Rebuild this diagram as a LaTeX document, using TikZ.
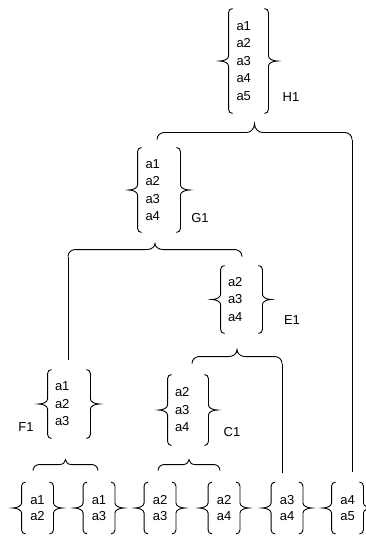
\documentclass[tikz,border=0pt]{standalone}
\usepackage{fontspec}
\setmainfont{Liberation Sans}
\usetikzlibrary{decorations,calc}
\makeatletter
\newdimen\cbr@r \newdimen\cbr@t \newdimen\cbr@w \newdimen\cbr@h
\cbr@r=4pt \cbr@t=9pt \cbr@w=5pt
\pgfkeys{
  /pgf/decoration/brace corner/.code={\pgfmathsetlength\cbr@r{#1}},
  /pgf/decoration/brace tip/.code={\pgfmathsetlength\cbr@t{#1}},
  /pgf/decoration/brace tip width/.code={\pgfmathsetlength\cbr@w{#1}},
}
\pgfdeclaredecoration{cbrace}{brace}{%
  \state{brace}[width=+\pgfdecoratedremainingdistance,next state=final]{%
    \cbr@h=.5\pgfdecoratedremainingdistance
    \pgfpathmoveto{\pgfpointorigin}%
    \pgfpathcurveto{\pgfqpoint{0pt}{.55\cbr@r}}{\pgfqpoint{.45\cbr@r}{\cbr@r}}{\pgfqpoint{\cbr@r}{\cbr@r}}%
    \pgfpathlineto{\pgfqpoint{\dimexpr\cbr@h-\cbr@w\relax}{\cbr@r}}%
    \pgfpathcurveto{\pgfqpoint{\dimexpr\cbr@h-.45\cbr@w\relax}{\cbr@r}}{\pgfqpoint{\cbr@h}{\dimexpr\cbr@r+.45\cbr@t\relax}}{\pgfqpoint{\cbr@h}{\dimexpr\cbr@r+\cbr@t\relax}}%
    \pgfpathcurveto{\pgfqpoint{\cbr@h}{\dimexpr\cbr@r+.45\cbr@t\relax}}{\pgfqpoint{\dimexpr\cbr@h+.45\cbr@w\relax}{\cbr@r}}{\pgfqpoint{\dimexpr\cbr@h+\cbr@w\relax}{\cbr@r}}%
    \pgfpathlineto{\pgfqpoint{\dimexpr\pgfdecoratedremainingdistance-\cbr@r\relax}{\cbr@r}}%
    \pgfpathcurveto{\pgfqpoint{\dimexpr\pgfdecoratedremainingdistance-.45\cbr@r\relax}{\cbr@r}}{\pgfqpoint{\pgfdecoratedremainingdistance}{.55\cbr@r}}{\pgfqpoint{\pgfdecoratedremainingdistance}{0pt}}%
  }%
  \state{final}{\pgfpathmoveto{\pgfpointdecoratedpathlast}}%
}
\makeatother
\tikzset{
  setnode/.style={align=left, inner ysep=0pt},
  botnode/.style={align=center, inner ysep=0pt, inner xsep=3pt, text width=17pt, minimum height=51pt,
    font=\fontsize{13}{16.5}\selectfont},
  setbrace/.style={decorate, decoration={cbrace, brace corner=4pt, brace tip=9pt, brace tip width=5pt}},
  joinbrace/.style={decorate, decoration={cbrace, brace corner=7pt, brace tip=#1, brace tip width=8pt}},
  joinbrace/.default=7pt,
  smallbrace/.style={decorate, decoration={cbrace, brace corner=6pt, brace tip=5pt, brace tip width=6pt}},
  connector/.style={draw},
}
\newcommand\bracepair[1]{%
  \draw[setbrace] (#1.south west) -- (#1.north west);
  \draw[setbrace] (#1.north east) -- (#1.south east);
}
\begin{document}
\begin{tikzpicture}[x=1pt, y=1pt, line width=0.9pt,
  every node/.append style={font=\fontsize{13}{17.5}\selectfont}]
\useasboundingbox (0,0) rectangle (365,-537);

% set nodes
\node[setnode, text width=24pt, inner xsep=3.5pt, minimum height=104pt] (H1) at (248.5,-61) {a1\\a2\\a3\\a4\\a5};
\node[setnode, text width=27pt, inner xsep=3.5pt, minimum height=84pt] (G1) at (159,-190) {a1\\a2\\a3\\a4};
\node[setnode, text width=27pt, inner xsep=3pt, minimum height=67pt] (E1) at (241.5,-299.5) {a2\\a3\\a4};
\node[setnode, text width=28pt, inner xsep=3pt, minimum height=68pt] (F1) at (69,-404) {a1\\a2\\a3};
\node[setnode, text width=26pt, inner xsep=3pt, minimum height=70pt] (C1) at (188,-410) {a2\\a3\\a4};
\node[botnode] (n1) at (37.5,-508) {a1\\a2};
\node[botnode] (n2) at (99,-508) {a1\\a3};
\node[botnode] (n3) at (160,-508) {a2\\a3};
\node[botnode] (n4) at (224,-508) {a2\\a4};
\node[botnode] (n5) at (287,-508) {a3\\a4};
\node[botnode] (n6) at (347.5,-508) {a4\\a5};

\foreach \n in {H1,G1,E1,F1,C1,n1,n2,n3,n4,n5,n6} {\bracepair{\n}}

% labels
\node (H1lab) at (291,-97) {H1};
\node (G1lab) at (200,-218) {G1};
\node (E1lab) at (292,-320) {E1};
\node (F1lab) at (26,-427) {F1};
\node (C1lab) at (232,-432) {C1};

% connectors
\coordinate (hA) at ([xshift=-2pt,yshift=8pt]G1.north);
\coordinate (hC) at ([xshift=4.5pt,yshift=10pt]n6.north);
\coordinate (hB) at (hA -| hC);
\draw[joinbrace=9pt] (hA) -- (hB);
\draw[connector] (hB) -- (hC);

\coordinate (gA) at ([xshift=-1pt,yshift=10pt]F1.north);
\coordinate (gB) at ([xshift=0.5pt,yshift=9pt]E1.north);
\coordinate (gL) at (gA |- gB);
\draw[joinbrace=6pt] (gL) -- (gB);
\draw[connector] (gL) -- (gA);

\coordinate (eA) at ([xshift=4pt,yshift=11pt]C1.north);
\coordinate (eC) at ([xshift=-5pt,yshift=9.5pt]n5.north);
\coordinate (eB) at (eA -| eC);
\draw[joinbrace=7pt] (eA) -- (eB);
\draw[connector] (eB) -- (eC);

\coordinate (fA) at ([xshift=-4.5pt,yshift=11.5pt]n1.north);
\coordinate (fB) at ([xshift=-1pt,yshift=11.5pt]n2.north);
\draw[smallbrace] (fA) -- (fB);

\coordinate (cA) at ([xshift=-2pt,yshift=11.5pt]n3.north);
\coordinate (cB) at ([xshift=-4pt,yshift=11.5pt]n4.north);
\draw[smallbrace] (cA) -- (cB);
\end{tikzpicture}
\end{document}
